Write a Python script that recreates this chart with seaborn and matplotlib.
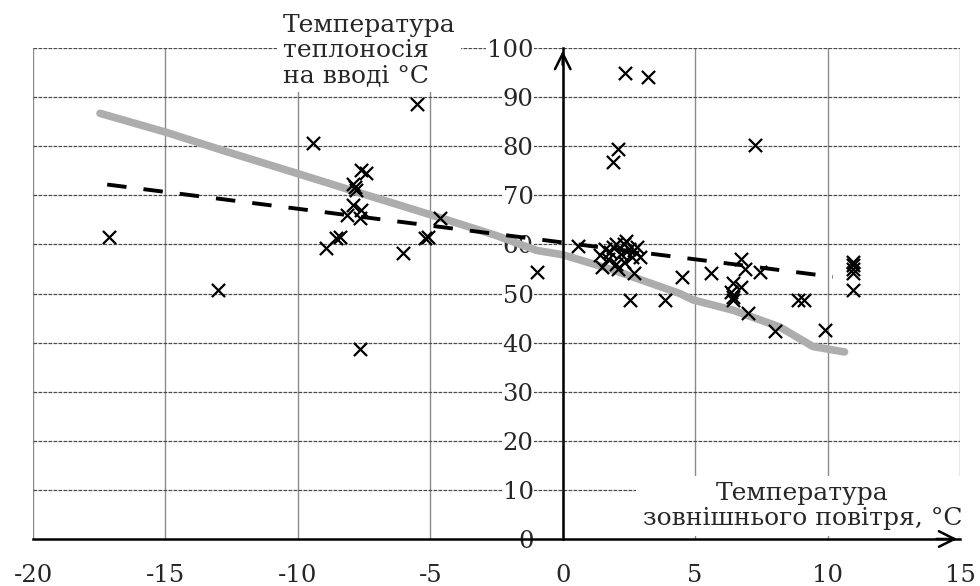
import numpy as np
import pandas as pd
import matplotlib
matplotlib.use('Agg')
import matplotlib.pyplot as plt
import seaborn as sns

# точки вимірів: температура зовнішнього повітря / температура теплоносія
t_out = [-17.15, -13.0, -9.42, -5.52, -7.6, -7.41, -7.91, -7.85, -7.79, -7.91,
         -7.6, -8.16, -7.66, -4.64, -8.42, -8.55, -5.08, -5.2, -8.92, -6.03, -7.66,
         -0.99, 0.58, 2.34, 3.22, 2.09, 1.9, 7.25,
         1.5, 1.7, 1.8, 1.9, 2.0, 2.1, 2.2, 2.3, 2.4, 2.5, 2.6, 2.7, 2.3, 2.0, 2.8, 1.6, 2.9, 1.4,
         2.7, 4.5, 5.6, 6.74, 6.9, 7.43, 6.43, 6.74, 6.36, 6.43, 6.43, 6.99, 8.0, 9.89,
         8.88, 9.1, 2.53, 3.85, 10.96, 10.96, 10.96, 10.96, 10.96]
t_in = [61.6, 50.7, 80.6, 88.7, 75.2, 74.5, 72.4, 71.8, 71.1, 68.0,
        67.0, 66.0, 65.3, 65.3, 61.6, 61.3, 61.6, 61.3, 59.2, 58.2, 38.8,
        54.4, 59.6, 95.0, 94.2, 79.4, 76.7, 80.2,
        55.5, 57.0, 58.5, 59.5, 56.0, 55.0, 58.0, 60.0, 60.8, 59.0, 57.5, 58.8, 56.5, 60.0, 59.5, 59.0, 57.5, 57.8,
        54.1, 53.4, 54.1, 57.1, 54.9, 54.4, 52.1, 51.4, 50.4, 49.2, 48.6, 46.1, 42.4, 42.6,
        48.7, 48.7, 48.7, 48.7, 56.5, 55.8, 55.0, 54.2, 50.8]

# лінійний тренд (пунктир)
trend_x = [-17.2, 10.2]
trend_y = [72.2, 53.4]

# графік регулювання (сіра лінія)
sched_x = [-17.47, -14.95, -12.69, -9.99, -7.91, -5.02, -2.5, -1.0, 0.0, 1.9,
           4.42, 4.92, 6.43, 8.19, 9.45, 10.64]
sched_y = [86.7, 82.8, 78.9, 74.4, 70.9, 66.1, 61.8, 58.8, 57.9, 54.8,
           50.0, 48.7, 46.6, 43.2, 39.2, 38.1]

x_ticks = [-20, -15, -10, -5, 0, 5, 10, 15]
y_ticks = [0, 10, 20, 30, 40, 50, 60, 70, 80, 90, 100]

df = pd.DataFrame({'t_out': t_out, 't_in': t_in})

sns.set_style('white')
plt.rcParams['font.family'] = ['DejaVu Serif', 'Liberation Serif']
plt.rcParams['axes.unicode_minus'] = False

fig = plt.figure(figsize=(9.8, 5.86), dpi=100)
ax = fig.add_axes([0.0337, 0.0802, 0.9459, 0.8378])

ax.set_xlim(-20, 15)
ax.set_ylim(0, 100)

# сітка
for xv in x_ticks:
    ax.axvline(xv, color='#8a8a8a', lw=1.0, zorder=0)
for yv in y_ticks[1:]:
    ax.axhline(yv, color='#4a4a4a', lw=0.9, ls=(0, (3, 1)), zorder=0)

sns.lineplot(x=sched_x, y=sched_y, color='#adadad', lw=5.5, sort=False, ax=ax, zorder=2)
sns.lineplot(x=trend_x, y=trend_y, color='black', lw=2.8, linestyle=(0, (5, 4.4)),
             sort=False, ax=ax, zorder=3)
sns.scatterplot(data=df, x='t_out', y='t_in', marker='x', color='black', s=90,
                linewidth=1.6, ax=ax, zorder=4)

# осі
ax.spines['top'].set_visible(False)
ax.spines['right'].set_visible(False)
ax.spines['left'].set_position(('data', 0))
ax.spines['bottom'].set_position(('data', 0))
for s in ['left', 'bottom']:
    ax.spines[s].set_linewidth(1.8)
    ax.spines[s].set_color('black')
    ax.spines[s].set_zorder(9)

ax.set_xticks(x_ticks)
ax.set_xticklabels([str(v) for v in x_ticks])
ax.set_yticks(y_ticks)
ax.set_yticklabels([str(v) for v in y_ticks])
ax.tick_params(axis='x', direction='out', length=6, width=1.3, pad=12, labelsize=17.5)
ax.tick_params(axis='y', direction='out', length=7, width=1.3, pad=14, labelsize=17.5)
for lab in ax.get_yticklabels():
    lab.set_bbox(dict(facecolor='white', edgecolor='none', pad=0.5))
ax.set_xlabel('')
ax.set_ylabel('')

# стрілки на осях
ax.annotate('', xy=(0, 100), xytext=(0, 96),
            arrowprops=dict(arrowstyle='->', lw=1.8, color='black', mutation_scale=28),
            annotation_clip=False, zorder=9)
ax.annotate('', xy=(15, 0), xytext=(14, 0),
            arrowprops=dict(arrowstyle='->', lw=1.8, color='black', mutation_scale=28),
            annotation_clip=False, zorder=9)

ax.text(-10.57, 106.9, 'Температура\nтеплоносія\nна вводі °C', ha='left', va='top',
        fontsize=18, linespacing=1.1, clip_on=False, zorder=7,
        bbox=dict(facecolor='white', edgecolor='none', pad=4))
ax.text(9.05, 11.6, 'Температура\nзовнішнього повітря, °C', ha='center', va='top',
        fontsize=18, linespacing=1.12, clip_on=False, zorder=7,
        bbox=dict(facecolor='white', edgecolor='none', pad=4.5))

fig.savefig('out.png', dpi=100)
